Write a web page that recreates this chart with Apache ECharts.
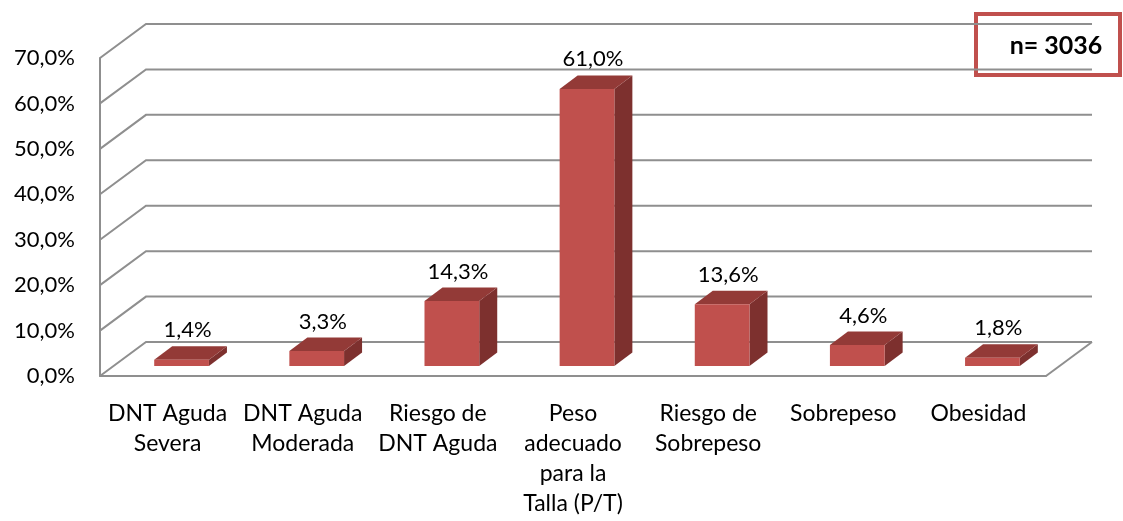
<!DOCTYPE html>
<html>
<head>
<meta charset="utf-8">
<script src="https://cdn.jsdelivr.net/npm/echarts@6/dist/echarts.min.js"></script>
<style>
  html, body { margin: 0; padding: 0; background: #fff; }
  #chart { width: 1123px; height: 521px; }
</style>
</head>
<body>
<div id="chart"></div>
<script>
// datos
var categories = ['DNT Aguda\nSevera', 'DNT Aguda\nModerada', 'Riesgo de\nDNT Aguda',
  'Peso\nadecuado\npara la\nTalla (P/T)', 'Riesgo de\nSobrepeso', 'Sobrepeso', 'Obesidad'];
var values = [1.4, 3.3, 14.3, 61.0, 13.6, 4.6, 1.8];
var yTicks = [0, 10, 20, 30, 40, 50, 60, 70];
var nLabel = 'n= 3036';

// efecto 3D
var DX = 46, DY = -34;          // profundidad del piso / pared
var BX = 14, BY = -10;          // plano frontal de las barras
var BDX = 18, BDY = -13.5;      // profundidad de cada barra
var gridColor = '#8f8f8f';

function pct(v) { return v.toFixed(1).replace('.', ',') + '%'; }

var chart = echarts.init(document.getElementById('chart'));

chart.setOption({
  animation: false,
  textStyle: { fontFamily: 'Lato' },
  grid: { left: 100, right: 77, top: 58, bottom: 145 },
  xAxis: {
    type: 'category',
    data: categories,
    axisLine: { show: true, lineStyle: { color: gridColor, width: 2 } },
    axisTick: { show: false },
    axisLabel: { interval: 0, margin: 23, color: '#000', fontSize: 23, lineHeight: 30, fontFamily: 'Lato' }
  },
  yAxis: {
    type: 'value',
    min: yTicks[0],
    max: yTicks[yTicks.length - 1],
    interval: 10,
    axisLine: { show: true, lineStyle: { color: gridColor, width: 2 } },
    axisTick: { show: false },
    splitLine: { show: false },
    axisLabel: { margin: 25, color: '#000', fontSize: 22, fontFamily: 'Lato', formatter: pct }
  },
  series: [
    {
      // paredes: lineas de cuadricula del fondo y piso
      type: 'custom',
      z: 1,
      silent: true,
      data: yTicks.map(function (t) { return [0, t]; }),
      renderItem: function (params, api) {
        var cs = params.coordSys;
        var y = api.coord([0, api.value(1)])[1];
        var x0 = cs.x, x1 = cs.x + cs.width;
        var children = [{
          type: 'polyline',
          shape: { points: [[x0, y], [x0 + DX, y + DY], [x1 + DX, y + DY]] },
          style: { stroke: gridColor, lineWidth: 2, fill: null }
        }];
        if (api.value(1) === 0) {
          children.push({
            type: 'line',
            shape: { x1: x1, y1: y, x2: x1 + DX, y2: y + DY },
            style: { stroke: gridColor, lineWidth: 2 }
          });
        }
        return { type: 'group', children: children };
      }
    },
    {
      // barras 3D
      type: 'custom',
      z: 2,
      data: values.map(function (v, i) { return [i, v]; }),
      renderItem: function (params, api) {
        var i = api.value(0), v = api.value(1);
        var base = api.coord([i, 0]);
        var top = api.coord([i, v]);
        var band = api.size([1, 0])[0];
        var w = band * 0.405;
        var xl = base[0] - w / 2 + BX, xr = xl + w;
        var yb = base[1] + BY, yt = top[1] + BY;
        return {
          type: 'group',
          children: [
            {
              type: 'polygon',
              shape: { points: [[xr, yb], [xr + BDX, yb + BDY], [xr + BDX, yt + BDY], [xr, yt]] },
              style: { fill: '#7d302e' }
            },
            {
              type: 'polygon',
              shape: { points: [[xl, yt], [xr, yt], [xr + BDX, yt + BDY], [xl + BDX, yt + BDY]] },
              style: { fill: '#933a37' }
            },
            {
              type: 'rect',
              shape: { x: xl, y: yt, width: w, height: yb - yt },
              style: { fill: '#c0504d' }
            },
            {
              type: 'text',
              x: (xl + xr) / 2 + 6,
              y: yt + BDY - 16,
              style: {
                text: pct(v), fill: '#000', fontSize: 22, fontFamily: 'Lato',
                align: 'center', verticalAlign: 'middle'
              }
            }
          ]
        };
      }
    }
  ],
  graphic: [
    {
      type: 'group',
      left: 974,
      top: 12,
      z: 10,
      children: [
        {
          type: 'rect',
          shape: { x: 0, y: 0, width: 144, height: 61 },
          style: { fill: '#fff', stroke: '#c0504d', lineWidth: 4 }
        },
        {
          type: 'text',
          x: 80,
          y: 32,
          style: {
            text: nLabel, fill: '#000', fontSize: 25, fontWeight: 'bold', fontFamily: 'Lato',
            align: 'center', verticalAlign: 'middle'
          }
        }
      ]
    }
  ]
});
</script>
</body>
</html>
